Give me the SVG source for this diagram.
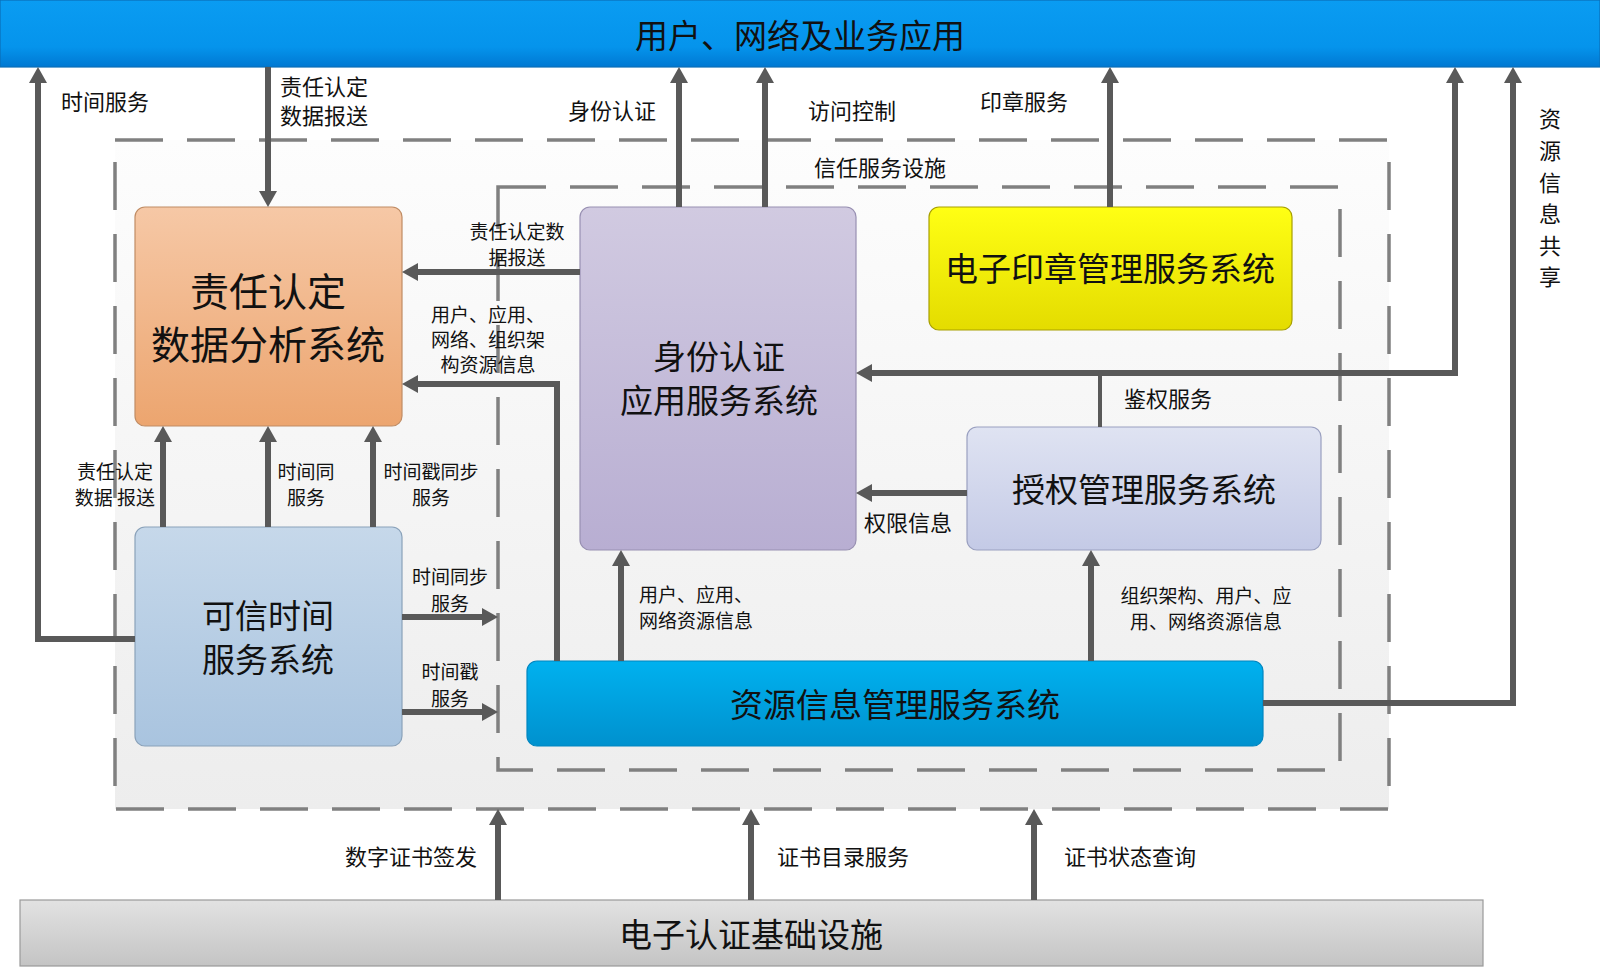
<svg xmlns="http://www.w3.org/2000/svg" width="1600" height="968" viewBox="0 0 1600 968">
<style>
text{font-family:"Noto Sans CJK SC","Noto Sans",sans-serif;fill:#111;dominant-baseline:central;text-anchor:middle}
.t33{font-size:33px}
.t39{font-size:39px}
.lb{font-size:22px}
.sm{font-size:19px}
.st{text-anchor:start}
.box{stroke-width:1.2}
.dash{fill:none;stroke:#808080;stroke-width:3.5;stroke-dasharray:48 24}
.ar{fill:none;stroke:#595959;stroke-width:6;marker-end:url(#ah)}
.ln{fill:none;stroke:#595959;stroke-width:6}
</style>
<defs>
<marker id="ah" markerUnits="userSpaceOnUse" markerWidth="16" markerHeight="18" refX="8" refY="9" orient="auto">
<path d="M0,0 L16,9 L0,18 z" fill="#595959"/>
</marker>
<linearGradient id="gTop" x1="0" y1="0" x2="0" y2="1"><stop offset="0" stop-color="#0a9cf2"/><stop offset="0.7" stop-color="#0594ec"/><stop offset="1" stop-color="#0078d2"/></linearGradient>
<linearGradient id="gBot" x1="0" y1="0" x2="0" y2="1"><stop offset="0" stop-color="#e2e2e2"/><stop offset="1" stop-color="#c4c4c4"/></linearGradient>
<linearGradient id="gZone" x1="0" y1="0" x2="0" y2="1"><stop offset="0" stop-color="#fdfdfd"/><stop offset="1" stop-color="#ededed"/></linearGradient>
<linearGradient id="gOr" x1="0" y1="0" x2="0" y2="1"><stop offset="0" stop-color="#f6c8a6"/><stop offset="1" stop-color="#eca56f"/></linearGradient>
<linearGradient id="gBl" x1="0" y1="0" x2="0" y2="1"><stop offset="0" stop-color="#c6d8ea"/><stop offset="1" stop-color="#a9c4df"/></linearGradient>
<linearGradient id="gLv" x1="0" y1="0" x2="0" y2="1"><stop offset="0" stop-color="#d1cae1"/><stop offset="1" stop-color="#b8aed2"/></linearGradient>
<linearGradient id="gYe" x1="0" y1="0" x2="0" y2="1"><stop offset="0" stop-color="#ffff14"/><stop offset="1" stop-color="#e4dc00"/></linearGradient>
<linearGradient id="gPw" x1="0" y1="0" x2="0" y2="1"><stop offset="0" stop-color="#dfe3f2"/><stop offset="1" stop-color="#c4cae6"/></linearGradient>
<linearGradient id="gCy" x1="0" y1="0" x2="0" y2="1"><stop offset="0" stop-color="#00b1ef"/><stop offset="1" stop-color="#0091ce"/></linearGradient>
</defs>

<rect width="1600" height="968" fill="#ffffff"/>

<g id="zones">
<rect x="115" y="140" width="1274" height="669" fill="url(#gZone)"/>
<rect x="115" y="140" width="1274" height="669" class="dash"/>
<rect x="498" y="187" width="842" height="583" class="dash"/>
<text x="880" y="166" class="lb">信任服务设施</text>
</g>

<g id="node-top">
<rect x="0" y="0" width="1600" height="67" fill="url(#gTop)" stroke="#0a6fb8" stroke-width="1.2"/>
<text x="800" y="34" class="t33">用户、网络及业务应用</text>
</g>

<g id="node-bottom">
<rect x="20" y="900" width="1463" height="66" fill="url(#gBot)" stroke="#9a9a9a" stroke-width="1.2"/>
<text x="751" y="933" class="t33">电子认证基础设施</text>
</g>

<g id="node-zeren">
<rect x="135" y="207" width="267" height="219" rx="10" fill="url(#gOr)" stroke="#c08c64" class="box"/>
<text x="268" y="289" class="t39">责任认定</text>
<text x="268" y="342" class="t39">数据分析系统</text>
</g>

<g id="node-kexin">
<rect x="135" y="527" width="267" height="219" rx="10" fill="url(#gBl)" stroke="#8aa2ba" class="box"/>
<text x="268" y="614" class="t33">可信时间</text>
<text x="268" y="658" class="t33">服务系统</text>
</g>

<g id="node-shenfen">
<rect x="580" y="207" width="276" height="343" rx="10" fill="url(#gLv)" stroke="#9890b2" class="box"/>
<text x="719" y="355" class="t33">身份认证</text>
<text x="719" y="399" class="t33">应用服务系统</text>
</g>

<g id="node-yinzhang">
<rect x="929" y="207" width="363" height="123" rx="10" fill="url(#gYe)" stroke="#a8a000" class="box"/>
<text x="1110" y="267" class="t33">电子印章管理服务系统</text>
</g>

<g id="node-shouquan">
<rect x="967" y="427" width="354" height="123" rx="10" fill="url(#gPw)" stroke="#9aa0c0" class="box"/>
<text x="1144" y="488" class="t33">授权管理服务系统</text>
</g>

<g id="node-ziyuan">
<rect x="527" y="661" width="736" height="85" rx="10" fill="url(#gCy)" stroke="#0086c0" class="box"/>
<text x="895" y="703" class="t33">资源信息管理服务系统</text>
</g>

<g id="connectors">
<path class="ar" d="M135,639 H38 V75"/>
<path class="ar" d="M268,67 V199"/>
<path class="ar" d="M679,207 V75"/>
<path class="ar" d="M765,207 V75"/>
<path class="ar" d="M1110,207 V75"/>
<path class="ln" style="stroke-width:4" d="M1100,427 V373"/>
<path class="ar" d="M1100,373 H864"/>
<path class="ar" d="M1097,373 H1455 V75"/>
<path class="ar" d="M967,493 H864"/>
<path class="ar" d="M1263,703 H1513 V75"/>
<path class="ar" d="M580,272 H410"/>
<path class="ar" d="M557,661 V384 H410"/>
<path class="ar" d="M163,527 V434"/>
<path class="ar" d="M268,527 V434"/>
<path class="ar" d="M373,527 V434"/>
<path class="ar" d="M402,617 H490"/>
<path class="ar" d="M402,712 H490"/>
<path class="ar" d="M621,661 V558"/>
<path class="ar" d="M1091,661 V558"/>
<path class="ar" d="M498,900 V817"/>
<path class="ar" d="M751,900 V817"/>
<path class="ar" d="M1034,900 V817"/>
</g>

<g id="labels">
<text x="105" y="100" class="lb">时间服务</text>
<text x="280" y="85" class="lb st">责任认定</text>
<text x="280" y="114" class="lb st">数据报送</text>
<text x="612" y="109" class="lb">身份认证</text>
<text x="852" y="109" class="lb">访问控制</text>
<text x="1024" y="100" class="lb">印章服务</text>
<g class="lb">
<text x="1550" y="117" class="lb">资</text>
<text x="1550" y="149" class="lb">源</text>
<text x="1550" y="181" class="lb">信</text>
<text x="1550" y="212" class="lb">息</text>
<text x="1550" y="244" class="lb">共</text>
<text x="1550" y="275" class="lb">享</text>
</g>
<text x="517" y="230" class="sm">责任认定数</text>
<text x="517" y="256" class="sm">据报送</text>
<text x="488" y="313" class="sm">用户、应用、</text>
<text x="488" y="338" class="sm">网络、组织架</text>
<text x="488" y="363" class="sm">构资源信息</text>
<text x="115" y="470" class="sm">责任认定</text>
<text x="115" y="496" class="sm">数据 报送</text>
<text x="306" y="470" class="sm">时间同</text>
<text x="306" y="496" class="sm">服务</text>
<text x="431" y="470" class="sm">时间戳同步</text>
<text x="431" y="496" class="sm">服务</text>
<text x="450" y="575" class="sm">时间同步</text>
<text x="450" y="602" class="sm">服务</text>
<text x="450" y="670" class="sm">时间戳</text>
<text x="450" y="697" class="sm">服务</text>
<text x="639" y="593" class="sm st">用户、应用、</text>
<text x="639" y="619" class="sm st">网络资源信息</text>
<text x="1206" y="594" class="sm">组织架构、用户、应</text>
<text x="1206" y="620" class="sm">用、网络资源信息</text>
<text x="1168" y="397" class="lb">鉴权服务</text>
<text x="908" y="521" class="lb">权限信息</text>
<text x="411" y="855" class="lb">数字证书签发</text>
<text x="843" y="855" class="lb">证书目录服务</text>
<text x="1130" y="855" class="lb">证书状态查询</text>
</g>
</svg>
